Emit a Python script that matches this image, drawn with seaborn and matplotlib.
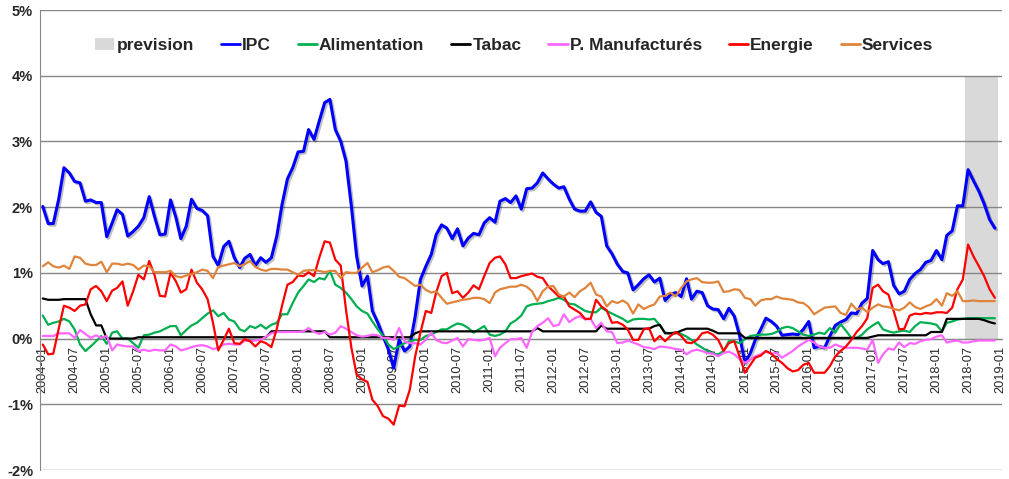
import pandas as pd
import seaborn as sns
import matplotlib.pyplot as plt
import matplotlib.dates as mdates
import matplotlib.patheffects as pe
from matplotlib.patches import Patch
from matplotlib.lines import Line2D

# monthly values (% year on year), one row per year 2004 -> 2018
ipc = [2.01, 1.75, 1.75, 2.12, 2.60, 2.52, 2.39, 2.37, 2.09, 2.11, 2.07, 2.07,
       1.55, 1.76, 1.96, 1.89, 1.56, 1.63, 1.71, 1.84, 2.16, 1.86, 1.58, 1.59,
       2.11, 1.84, 1.52, 1.71, 2.12, 1.98, 1.95, 1.87, 1.25, 1.11, 1.40, 1.48,
       1.23, 1.08, 1.22, 1.28, 1.11, 1.23, 1.16, 1.23, 1.56, 2.04, 2.43, 2.60,
       2.84, 2.85, 3.18, 3.03, 3.31, 3.59, 3.64, 3.18, 3.00, 2.70, 2.01, 1.25,
       0.80, 0.95, 0.42, 0.24, 0.04, -0.17, -0.45, -0.02, -0.19, -0.12, 0.34, 0.90,
       1.10, 1.28, 1.58, 1.73, 1.68, 1.52, 1.67, 1.41, 1.53, 1.60, 1.58, 1.76,
       1.84, 1.77, 2.09, 2.13, 2.07, 2.17, 1.97, 2.28, 2.29, 2.37, 2.52, 2.43,
       2.35, 2.29, 2.31, 2.12, 1.97, 1.94, 1.94, 2.08, 1.92, 1.86, 1.41, 1.29,
       1.13, 1.02, 1.00, 0.74, 0.82, 0.91, 0.97, 0.86, 0.92, 0.58, 0.67, 0.70,
       0.64, 0.91, 0.60, 0.72, 0.70, 0.50, 0.45, 0.44, 0.30, 0.46, 0.34, 0.05,
       -0.37, -0.22, -0.02, 0.14, 0.31, 0.26, 0.19, 0.05, 0.06, 0.07, 0.06, 0.14,
       0.26, -0.14, -0.12, -0.14, 0.04, 0.20, 0.25, 0.29, 0.39, 0.38, 0.54, 0.61,
       1.34, 1.20, 1.14, 1.17, 0.81, 0.68, 0.72, 0.90, 0.99, 1.05, 1.16, 1.19,
       1.34, 1.20, 1.57, 1.64, 2.02, 2.02, 2.57, 2.40, 2.24, 2.05, 1.81, 1.68]

alimentation = [0.35, 0.21, 0.24, 0.26, 0.30, 0.26, 0.14, -0.09, -0.19, -0.12, -0.04, 0.04,
                -0.08, 0.09, 0.11, 0.00, 0.00, -0.07, -0.14, 0.05, 0.06, 0.09, 0.11, 0.15,
                0.19, 0.19, 0.05, 0.13, 0.20, 0.24, 0.31, 0.38, 0.43, 0.34, 0.39, 0.29,
                0.26, 0.14, 0.11, 0.19, 0.16, 0.21, 0.15, 0.21, 0.24, 0.37, 0.37, 0.54,
                0.70, 0.80, 0.90, 0.86, 0.92, 0.90, 1.03, 0.82, 0.77, 0.70, 0.60, 0.49,
                0.42, 0.38, 0.26, 0.14, 0.04, -0.09, -0.16, -0.12, -0.07, -0.04, -0.02, -0.02,
                0.04, 0.06, 0.10, 0.14, 0.14, 0.19, 0.23, 0.21, 0.16, 0.09, 0.14, 0.19,
                0.06, 0.04, 0.06, 0.11, 0.23, 0.28, 0.35, 0.49, 0.52, 0.53, 0.54, 0.57,
                0.59, 0.62, 0.59, 0.53, 0.52, 0.47, 0.42, 0.40, 0.40, 0.47, 0.42, 0.38,
                0.34, 0.30, 0.25, 0.29, 0.30, 0.30, 0.29, 0.30, 0.20, 0.09, 0.08, 0.10,
                0.07, 0.03, -0.02, -0.09, -0.14, -0.19, -0.23, -0.24, -0.19, -0.04, -0.04, -0.07,
                -0.01, 0.04, 0.05, 0.06, 0.06, 0.07, 0.10, 0.16, 0.18, 0.16, 0.11, 0.06,
                0.04, 0.06, 0.09, 0.07, 0.16, 0.09, 0.22, 0.12, 0.01, 0.01, 0.06, 0.14,
                0.20, 0.25, 0.14, 0.11, 0.09, 0.11, 0.12, 0.10, 0.19, 0.25, 0.24, 0.23,
                0.21, 0.11, 0.24, 0.26, 0.29, 0.30, 0.31, 0.31, 0.31, 0.31, 0.31, 0.31]

tabac = [0.61, 0.59, 0.59, 0.59, 0.60, 0.60, 0.60, 0.60, 0.60, 0.37, 0.20, 0.20,
         0.00, 0.00, 0.00, 0.00, 0.00, 0.00, 0.02, 0.02, 0.02, 0.02, 0.02, 0.02,
         0.02, 0.02, 0.02, 0.02, 0.02, 0.02, 0.02, 0.02, 0.02, 0.02, 0.02, 0.02,
         0.02, 0.02, 0.02, 0.02, 0.02, 0.02, 0.02, 0.11, 0.11, 0.11, 0.11, 0.11,
         0.11, 0.11, 0.11, 0.11, 0.11, 0.11, 0.02, 0.02, 0.02, 0.02, 0.02, 0.02,
         0.02, 0.02, 0.02, 0.02, 0.02, 0.02, 0.02, 0.02, 0.02, 0.02, 0.08, 0.11,
         0.11, 0.11, 0.11, 0.11, 0.11, 0.11, 0.11, 0.11, 0.11, 0.11, 0.11, 0.11,
         0.11, 0.11, 0.11, 0.11, 0.11, 0.11, 0.11, 0.11, 0.11, 0.16, 0.11, 0.11,
         0.11, 0.11, 0.11, 0.11, 0.11, 0.11, 0.11, 0.11, 0.11, 0.20, 0.15, 0.15,
         0.15, 0.15, 0.15, 0.15, 0.15, 0.15, 0.15, 0.19, 0.21, 0.08, 0.08, 0.08,
         0.12, 0.15, 0.15, 0.15, 0.15, 0.15, 0.12, 0.08, 0.08, 0.08, 0.08, 0.08,
         0.01, 0.01, 0.01, 0.01, 0.01, 0.01, 0.01, 0.01, 0.01, 0.01, 0.01, 0.01,
         0.01, 0.01, 0.01, 0.01, 0.01, 0.01, 0.01, 0.01, 0.01, 0.01, 0.01, 0.01,
         0.03, 0.05, 0.05, 0.05, 0.05, 0.05, 0.05, 0.05, 0.05, 0.05, 0.05, 0.10,
         0.10, 0.10, 0.30, 0.30, 0.30, 0.30, 0.30, 0.30, 0.30, 0.28, 0.25, 0.23]

manufactures = [0.04, 0.04, 0.04, 0.08, 0.08, 0.08, 0.01, 0.13, 0.07, 0.01, 0.05, 0.01,
                0.04, -0.18, -0.09, -0.11, -0.12, -0.12, -0.19, -0.17, -0.19, -0.17, -0.18, -0.18,
                -0.09, -0.12, -0.18, -0.16, -0.13, -0.11, -0.10, -0.12, -0.16, -0.14, -0.09, -0.08,
                -0.09, -0.09, -0.03, -0.04, -0.03, -0.02, 0.03, 0.08, 0.10, 0.10, 0.10, 0.10,
                0.10, 0.11, 0.16, 0.10, 0.07, 0.10, 0.06, 0.09, 0.19, 0.15, 0.10, 0.05,
                0.03, 0.04, 0.06, 0.05, 0.01, 0.01, -0.02, 0.16, -0.04, -0.07, -0.07, -0.09,
                -0.02, 0.09, -0.02, -0.06, -0.07, -0.03, 0.01, -0.12, -0.01, -0.02, -0.03, -0.02,
                0.01, -0.27, -0.14, -0.07, -0.01, -0.01, 0.01, -0.14, 0.10, 0.19, 0.24, 0.31,
                0.19, 0.21, 0.37, 0.25, 0.31, 0.34, 0.29, 0.30, 0.16, 0.24, 0.11, 0.10,
                -0.07, -0.06, -0.03, -0.06, -0.09, -0.13, -0.14, -0.16, -0.12, -0.13, -0.14, -0.16,
                -0.17, -0.24, -0.19, -0.17, -0.19, -0.22, -0.23, -0.27, -0.22, -0.20, -0.24, -0.31,
                -0.37, -0.32, -0.27, -0.24, -0.19, -0.23, -0.22, -0.29, -0.24, -0.19, -0.12, -0.07,
                -0.02, -0.06, -0.12, -0.14, -0.14, -0.09, -0.12, -0.14, -0.14, -0.14, -0.15, -0.17,
                -0.02, -0.37, -0.24, -0.15, -0.17, -0.06, -0.13, -0.07, -0.08, -0.04, -0.02, -0.01,
                0.03, 0.05, -0.06, -0.04, -0.03, -0.06, -0.06, -0.04, -0.03, -0.03, -0.03, -0.03]

energie = [-0.09, -0.24, -0.23, 0.15, 0.50, 0.47, 0.42, 0.50, 0.52, 0.75, 0.80, 0.72,
           0.57, 0.73, 0.77, 0.87, 0.50, 0.72, 0.97, 0.90, 1.18, 0.97, 0.65, 0.64,
           1.00, 0.87, 0.70, 0.75, 1.05, 0.85, 0.75, 0.60, 0.24, -0.18, -0.02, 0.15,
           -0.07, -0.08, -0.01, -0.04, -0.12, -0.04, -0.07, -0.13, 0.15, 0.50, 0.82, 0.86,
           0.96, 0.95, 1.01, 0.95, 1.23, 1.48, 1.46, 1.20, 1.11, 0.44, -0.14, -0.55,
           -0.62, -0.66, -0.93, -1.03, -1.18, -1.22, -1.31, -1.02, -1.03, -0.78, -0.27, 0.09,
           0.42, 0.39, 0.70, 0.95, 1.00, 0.69, 0.72, 0.62, 0.70, 0.81, 0.75, 0.95,
           1.15, 1.23, 1.25, 1.13, 0.92, 0.92, 0.95, 0.97, 0.99, 0.94, 0.92, 0.80,
           0.72, 0.64, 0.64, 0.49, 0.44, 0.39, 0.30, 0.30, 0.59, 0.49, 0.43, 0.24,
           0.25, 0.21, 0.14, -0.02, -0.02, 0.14, 0.16, -0.04, 0.04, -0.04, 0.04, 0.10,
           0.04, -0.06, -0.07, -0.02, 0.08, 0.10, 0.06, -0.02, -0.19, -0.07, -0.04, -0.27,
           -0.52, -0.40, -0.29, -0.26, -0.19, -0.23, -0.31, -0.37, -0.45, -0.50, -0.48, -0.40,
           -0.37, -0.52, -0.52, -0.52, -0.42, -0.27, -0.19, -0.12, -0.02, 0.10, 0.19, 0.31,
           0.77, 0.82, 0.72, 0.67, 0.42, 0.14, 0.15, 0.35, 0.38, 0.37, 0.39, 0.38,
           0.40, 0.40, 0.39, 0.47, 0.75, 0.90, 1.43, 1.25, 1.10, 0.95, 0.75, 0.62]

services = [1.10, 1.16, 1.10, 1.08, 1.11, 1.06, 1.25, 1.23, 1.14, 1.12, 1.12, 1.17,
            1.01, 1.14, 1.14, 1.12, 1.14, 1.12, 1.05, 1.11, 1.10, 1.01, 1.01, 1.01,
            1.03, 0.95, 0.93, 0.96, 0.98, 1.01, 1.05, 1.03, 0.92, 1.09, 1.11, 1.13,
            1.15, 1.10, 1.13, 1.18, 1.09, 1.05, 1.03, 1.06, 1.06, 1.05, 1.05, 1.01,
            0.97, 1.03, 1.04, 1.04, 1.03, 1.01, 1.03, 1.03, 0.92, 1.01, 1.00, 1.00,
            1.08, 1.15, 1.01, 1.04, 1.08, 1.10, 1.03, 0.94, 0.92, 0.86, 0.80, 0.82,
            0.74, 0.70, 0.72, 0.62, 0.53, 0.55, 0.57, 0.59, 0.60, 0.62, 0.62, 0.60,
            0.54, 0.70, 0.75, 0.77, 0.79, 0.79, 0.82, 0.79, 0.72, 0.57, 0.72, 0.79,
            0.80, 0.67, 0.64, 0.70, 0.63, 0.72, 0.77, 0.85, 0.67, 0.64, 0.49, 0.57,
            0.54, 0.58, 0.53, 0.38, 0.52, 0.45, 0.49, 0.52, 0.64, 0.65, 0.70, 0.64,
            0.77, 0.87, 0.90, 0.92, 0.86, 0.85, 0.85, 0.87, 0.71, 0.72, 0.75, 0.74,
            0.62, 0.60, 0.50, 0.58, 0.60, 0.60, 0.64, 0.61, 0.60, 0.59, 0.55, 0.54,
            0.48, 0.37, 0.42, 0.47, 0.48, 0.49, 0.39, 0.36, 0.53, 0.44, 0.47, 0.40,
            0.47, 0.52, 0.49, 0.48, 0.45, 0.43, 0.47, 0.55, 0.48, 0.45, 0.49, 0.52,
            0.60, 0.50, 0.69, 0.65, 0.72, 0.57, 0.57, 0.58, 0.57, 0.57, 0.57, 0.57]

# forecast period (grey columns)
prevision_months = ['2018-07', '2018-08', '2018-09', '2018-10', '2018-11', '2018-12']
prevision_value = 4

months = pd.date_range('2004-01-01', periods=len(ipc), freq='MS')

df = pd.DataFrame({'mois': months, 'IPC': ipc, 'Alimentation': alimentation,
                   'Tabac': tabac, 'P. Manufacturés': manufactures,
                   'Energie': energie, 'Services': services})
df_long = df.melt(id_vars='mois', var_name='serie', value_name='valeur')

colors = {'IPC': '#0000FF', 'Alimentation': '#00B050', 'Tabac': '#000000',
          'P. Manufacturés': '#FF66FF', 'Energie': '#FF0000', 'Services': '#E0843C'}
widths = {'IPC': 2.2, 'Alimentation': 1.6, 'Tabac': 1.6,
          'P. Manufacturés': 1.6, 'Energie': 1.6, 'Services': 1.6}
grid_grey = '#868686'

sns.set_style('white')
plt.rcParams['font.family'] = ['Liberation Sans', 'DejaVu Sans']

fig = plt.figure(figsize=(10.09, 4.79), dpi=100)
ax = fig.add_axes([40 / 1009, 9 / 479, 962 / 1009, 460 / 479])

# grey forecast block
prev_dates = pd.to_datetime(prevision_months)
ax.bar(prev_dates, [prevision_value] * len(prev_dates), width=31,
       color='#D9D9D9', align='center', zorder=0.2, linewidth=0)

# one seaborn line per series
for name in colors:
    sub = df_long[df_long['serie'] == name]
    sns.lineplot(data=sub, x='mois', y='valeur', color=colors[name],
                 lw=widths[name], ax=ax, legend=False, zorder=3)
    if name == 'IPC':
        ax.lines[-1].set_path_effects([pe.SimpleLineShadow(offset=(1.2, -1.2), alpha=0.25),
                                       pe.Normal()])

# axes limits and grid
ax.set_ylim(-2, 5)
ax.set_xlim(pd.Timestamp('2003-12-16'), pd.Timestamp('2019-01-11'))
ax.set_yticks(range(-2, 6))
ax.set_yticklabels([f'{v}%' for v in range(-2, 6)])
ax.yaxis.grid(True, color=grid_grey, lw=1)
ax.xaxis.grid(False)
ax.set_axisbelow(True)

tick_dates = pd.date_range('2004-01-01', '2019-01-01', freq='6MS')
ax.set_xticks(mdates.date2num(tick_dates))
ax.set_xticklabels([d.strftime('%Y-%m') for d in tick_dates])
ax.tick_params(axis='x', direction='out', length=4, width=1, color=grid_grey,
               pad=1, labelrotation=90, labelsize=9.2)
ax.tick_params(axis='y', length=0, pad=5, labelsize=10.5)
plt.setp(ax.get_xticklabels(), fontweight='bold')
plt.setp(ax.get_yticklabels(), fontweight='bold')
ax.set_xlabel('')
ax.set_ylabel('')

# spines: left axis and horizontal axis crossing at 0
for side in ['top', 'right']:
    ax.spines[side].set_visible(False)
ax.spines['left'].set_color(grid_grey)
ax.spines['bottom'].set_color(grid_grey)
ax.spines['bottom'].set_position(('data', 0))

# legend on top
handles = [Patch(facecolor='#D9D9D9', edgecolor='none', label='prevision')]
for name in colors:
    handles.append(Line2D([], [], color=colors[name], lw=2, label=name))
ax.legend(handles=handles, loc='center', bbox_to_anchor=(0.493, 0.922), ncol=7,
          frameon=False, prop={'weight': 'bold', 'size': 12.5},
          handlelength=1.1, handletextpad=0.12, columnspacing=1.55)

fig.savefig('out.png', dpi=100)
